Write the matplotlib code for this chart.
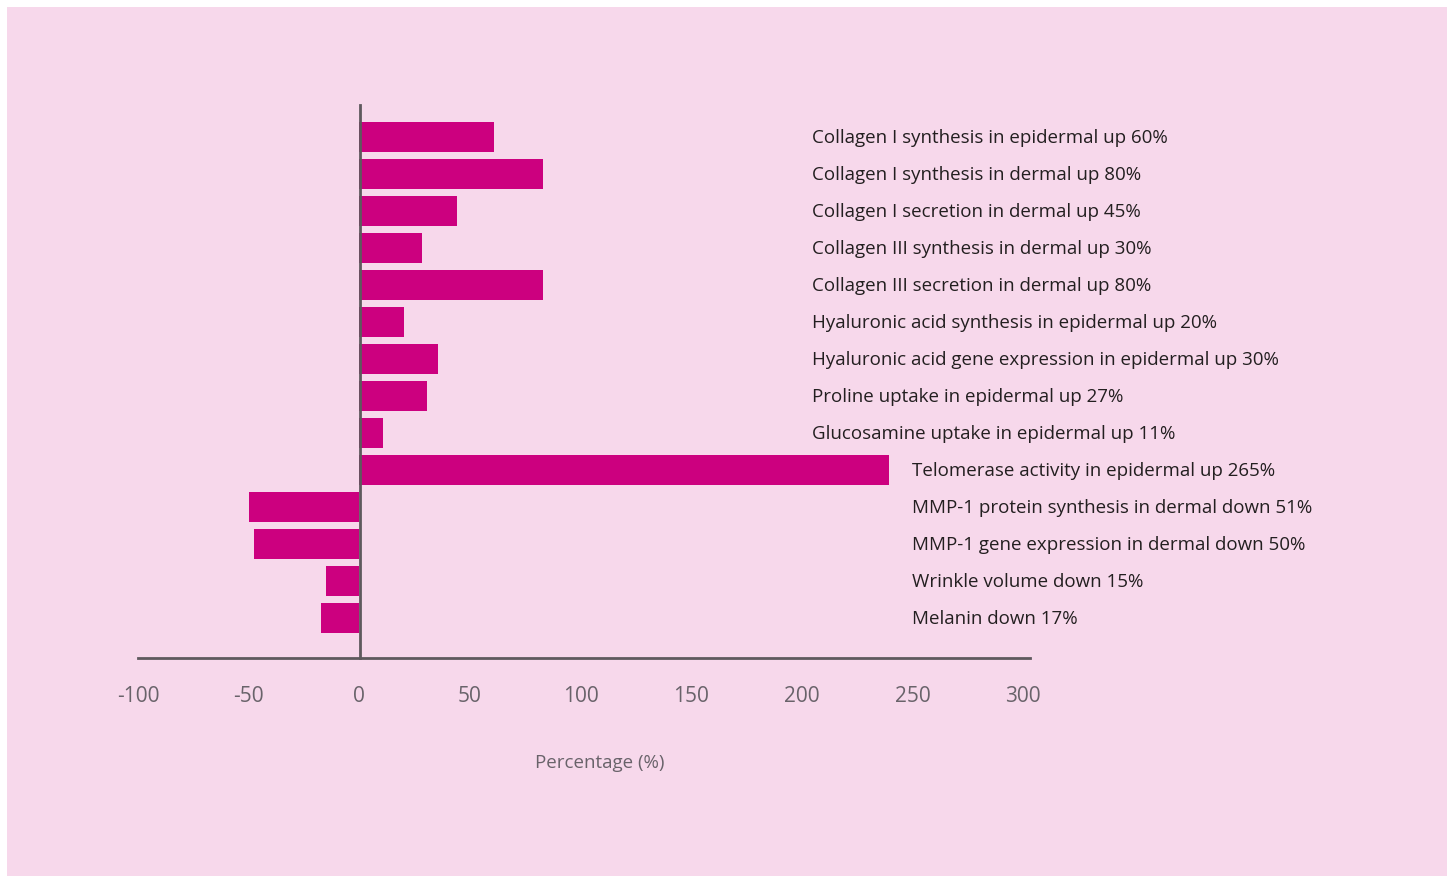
import matplotlib
matplotlib.use("Agg")
import matplotlib.pyplot as plt
from matplotlib.patches import Rectangle

plt.rcParams['font.family'] = ['Open Sans', 'DejaVu Sans']

labels = [
    "Collagen I synthesis in epidermal up 60%",
    "Collagen I synthesis in dermal up 80%",
    "Collagen I secretion in dermal up 45%",
    "Collagen III synthesis in dermal up 30%",
    "Collagen III secretion in dermal up 80%",
    "Hyaluronic acid synthesis in epidermal up 20%",
    "Hyaluronic acid gene expression in epidermal up 30%",
    "Proline uptake in epidermal up 27%",
    "Glucosamine uptake in epidermal up 11%",
    "Telomerase activity in epidermal up 265%",
    "MMP-1 protein synthesis in dermal down 51%",
    "MMP-1 gene expression in dermal down 50%",
    "Wrinkle volume down 15%",
    "Melanin down 17%",
]
values = [61, 83, 44.3, 28.5, 83, 20.3, 35.7, 30.7, 10.8, 239.5, -49.7, -47.4, -14.9, -17.2]
xticks = [-100, -50, 0, 50, 100, 150, 200, 250, 300]
xlabel = "Percentage (%)"

W, H = 1453, 876
bg = "#F7D8EB"
bar_color = "#CC007F"
axis_color = "#5E595D"
tick_color = "#69636A"
text_color = "#231F20"

fig = plt.figure(figsize=(W / 100, H / 100), dpi=100, facecolor="white")
fig.patches.append(Rectangle((7 / W, 0), 1440 / W, (H - 7) / H, transform=fig.transFigure,
                             facecolor=bg, edgecolor="none", zorder=-10))

left, right, top, bottom = 138, 1030, 105, 658
ax = fig.add_axes([left / W, 1 - bottom / H, (right - left) / W, (bottom - top) / H])
ax.set_facecolor("none")

ypos = list(range(len(values)))
ax.barh(ypos, values, height=0.81, color=bar_color, zorder=2)

ax.set_xlim(-100, 303)
ax.set_ylim(14.08, -0.865)

for s in ["top", "right"]:
    ax.spines[s].set_visible(False)
ax.spines["left"].set_position(("data", 0.4))
ax.spines["left"].set_color(axis_color)
ax.spines["left"].set_linewidth(2)
ax.spines["left"].set_zorder(3)
ax.spines["bottom"].set_color(axis_color)
ax.spines["bottom"].set_linewidth(2)
ax.set_yticks([])
ax.set_xticks(xticks)
ax.set_xticklabels([str(t) for t in xticks])
ax.tick_params(axis="x", length=0, pad=20, labelsize=15, labelcolor=tick_color)

ax.set_xlabel(xlabel, fontsize=13.5, color=tick_color)
ax.xaxis.set_label_coords((600 - left) / (right - left), -(763 - bottom) / (bottom - top))
ax.xaxis.label.set_va("center")

for i, lab in enumerate(labels):
    xt = 204.6 if i < 9 else 249.8
    ax.text(xt, i + 0.02, lab, va="center", ha="left", fontsize=13.5, color=text_color, clip_on=False)

fig.savefig("out.png", dpi=100, facecolor="white")
